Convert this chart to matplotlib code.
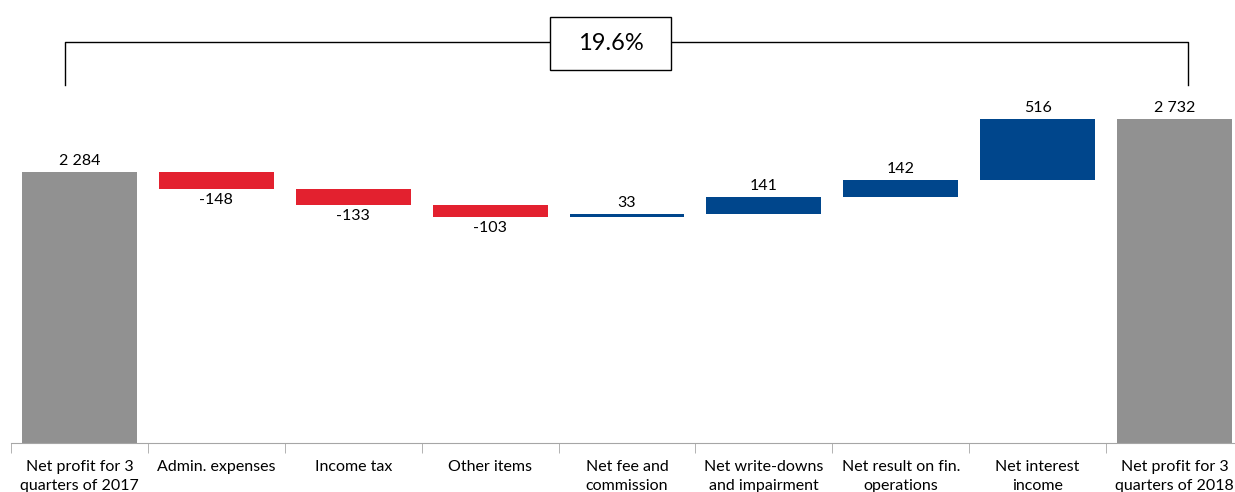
import matplotlib as mpl
mpl.use('Agg')
import numpy as np
import matplotlib.pyplot as plt
from matplotlib.patches import Rectangle

plt.rcParams['font.family'] = ['Lato', 'DejaVu Sans']

categories = ["Net profit for 3\nquarters of 2017", "Admin. expenses", "Income tax",
              "Other items", "Net fee and\ncommission", "Net write-downs\nand impairment",
              "Net result on fin.\noperations", "Net interest\nincome",
              "Net profit for 3\nquarters of 2018"]
changes = [2284, -148, -133, -103, 33, 141, 142, 516, 2732]
value_labels = ["2 284", "-148", "-133", "-103", "33", "141", "142", "516", "2 732"]
growth_label = "19.6%"

gray = '#919191'
red = '#E3212F'
blue = '#00468C'

fig = plt.figure(figsize=(12.35, 4.92), dpi=100)
ax = fig.add_axes([11/1235, 49/492, 1232/1235, 443/492])

x = np.arange(len(changes))
bottoms = []
heights = []
colors = []
running = 0
for i, v in enumerate(changes):
    if i == 0 or i == len(changes) - 1:
        bottoms.append(0)
        heights.append(v)
        colors.append(gray)
        running = v
    else:
        if v < 0:
            bottoms.append(running + v)
            heights.append(-v)
            colors.append(red)
        else:
            bottoms.append(running)
            heights.append(v)
            colors.append(blue)
        running += v

ax.bar(x, heights, bottom=bottoms, width=0.84, color=colors, zorder=2)

for i, v in enumerate(changes):
    top = bottoms[i] + heights[i]
    if v < 0:
        ax.text(x[i], bottoms[i] - 30, value_labels[i], ha='center', va='top', fontsize=11.5)
    else:
        ax.text(x[i], top + 30, value_labels[i], ha='center', va='bottom', fontsize=11.5)

ax.set_xlim(-0.5, len(changes) - 0.5)
ax.set_ylim(0, 3732)

# bracket with growth label
yb = 3378
yd = 3016
ax.plot([-0.106, -0.106, 8.10, 8.10], [yd, yb, yb, yd], color='black', lw=1, clip_on=False, zorder=1)
bx, by, bw, bh = 3.88, 3366, 0.89, 446
ax.add_patch(Rectangle((bx - bw / 2, by - bh / 2), bw, bh, fc='white', ec='black', lw=1,
                       zorder=3, clip_on=False))
ax.text(bx, by, growth_label, ha='center', va='center', fontsize=17, zorder=4)

for s in ['top', 'right', 'left']:
    ax.spines[s].set_visible(False)
ax.spines['bottom'].set_color('#A6A6A6')
ax.set_yticks([])
ax.set_xticks(x)
ax.set_xticklabels(categories, fontsize=11.5, linespacing=1.45)
ax.tick_params(axis='x', which='major', length=0, pad=12)
ax.set_xticks(np.arange(-0.5, len(changes)), minor=True)
ax.tick_params(axis='x', which='minor', length=7, color='#A6A6A6', direction='out')

plt.savefig('out.png', dpi=100)
plt.close()
